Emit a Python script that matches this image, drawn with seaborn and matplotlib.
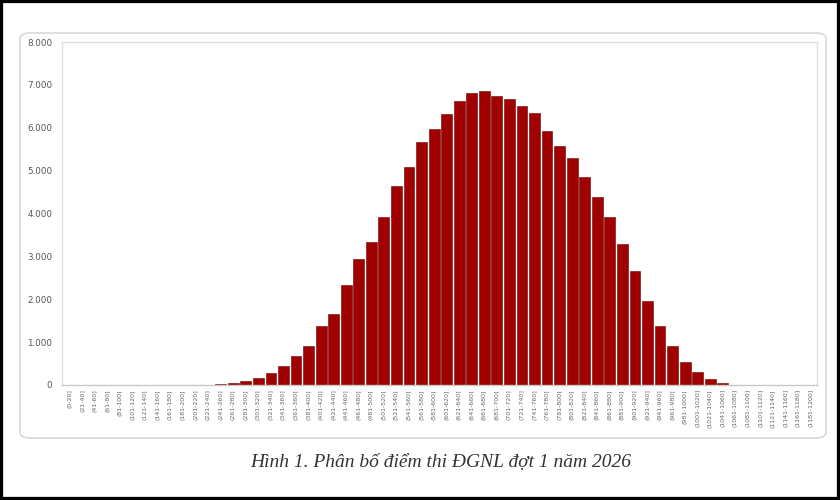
import matplotlib
matplotlib.use("Agg")
import matplotlib.pyplot as plt
from matplotlib.patches import FancyBboxPatch, Rectangle
import seaborn as sns
import pandas as pd

# ---- data ----
bin_labels = ["(0-20]"] + [f"({20*i+1}-{20*(i+1)}]" for i in range(1, 60)]
counts = [
    0, 0, 0, 0, 0, 0, 0, 0, 0, 0,
    0, 5, 15, 40, 93, 155, 272, 443, 676, 917,
    1383, 1647, 2331, 2937, 3341, 3916, 4639, 5089, 5657, 5967,
    6310, 6620, 6800, 6853, 6744, 6667, 6503, 6333, 5921, 5579,
    5299, 4856, 4390, 3909, 3287, 2665, 1966, 1383, 917, 544,
    295, 132, 40, 5, 0, 0, 0, 0, 0, 0,
]
y_ticks = [0, 1000, 2000, 3000, 4000, 5000, 6000, 7000, 8000]
y_tick_labels = ["0", "1.000", "2.000", "3.000", "4.000", "5.000", "6.000", "7.000", "8.000"]
caption = "Hình 1. Phân bố điểm thi ĐGNL đợt 1 năm 2026"

df = pd.DataFrame({"bin": bin_labels, "count": counts})

sns.set_theme(style="white")
plt.rcParams["font.family"] = ["DejaVu Sans"]

fig = plt.figure(figsize=(8.4, 5.0), dpi=100)
fig.patch.set_facecolor("white")

# outer black frame
fig.patches.append(Rectangle((0, 0), 1, 1, transform=fig.transFigure,
                             fill=False, edgecolor="black", linewidth=4.5, zorder=10))
# rounded light card (outline only)
fig.patches.append(FancyBboxPatch((20 / 840, 62 / 500), 806 / 840, 405 / 500,
                                  boxstyle="round,pad=0,rounding_size=0.012",
                                  transform=fig.transFigure, fill=False,
                                  edgecolor="#d9d9d9", linewidth=1.2, zorder=-1))

ax = fig.add_axes([62 / 840, 115 / 500, 755 / 840, 343 / 500])
ax.set_facecolor("white")

sns.barplot(data=df, x="bin", y="count", order=bin_labels, color="#A00000",
            saturation=1, width=0.86, edgecolor="#6a0000", linewidth=0.4, ax=ax)

ax.set_xlim(-0.64, 59.5)
ax.set_ylim(0, 8000)
ax.set_yticks(y_ticks)
ax.set_yticklabels(y_tick_labels, fontsize=6.3, color="#555555")
ax.set_xticks(range(len(bin_labels)))
ax.set_xticklabels(bin_labels, rotation=90, fontsize=4.5, color="#666666")
ax.tick_params(axis="both", length=0, pad=3)
ax.tick_params(axis="y", pad=7)
ax.set_xlabel("")
ax.set_ylabel("")
for s in ax.spines.values():
    s.set_color("#e0e0e0")
    s.set_linewidth(1.0)
ax.spines["bottom"].set_color("#c8c8c8")

fig.text(0.525, 0.076, caption, ha="center", va="center",
         fontsize=14, style="italic", family=["Liberation Serif", "DejaVu Serif"],
         color="#333333")

fig.savefig("out.png", dpi=100, facecolor="white")
